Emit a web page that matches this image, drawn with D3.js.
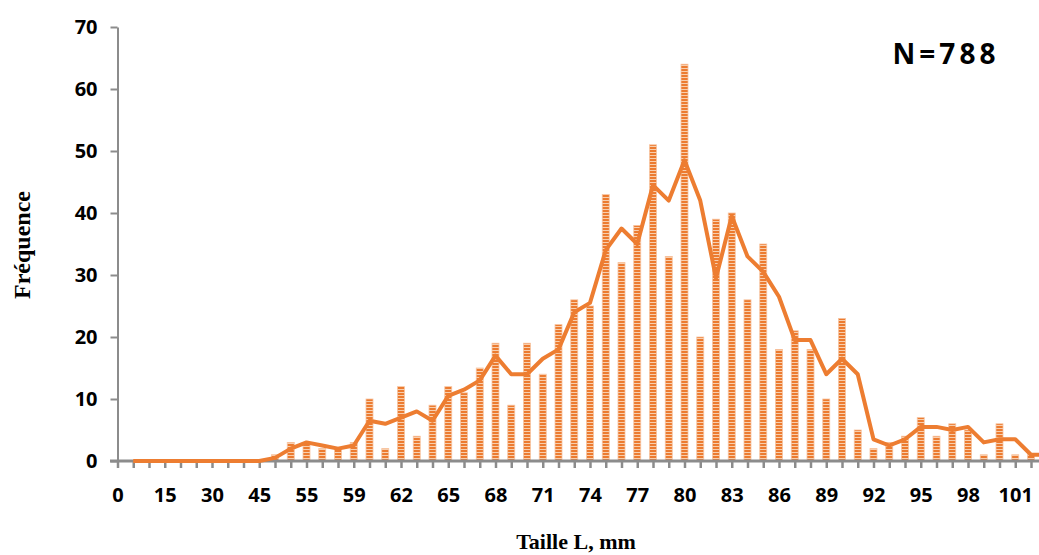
<!DOCTYPE html>
<html>
    <head>
        <meta charset="UTF-8">
        <title>Taille L</title>
        <style>
            body {
                margin: 0;
                background: #fff;
            }
            .axis path, .axis line {
                stroke: #8c8c8c;
            }
            .axis text {
                font-family: "Open Sans", sans-serif;
                font-weight: bold;
                font-size: 20px;
                fill: #000;
            }
        </style>
        <script type="text/javascript" src="https://cdnjs.cloudflare.com/ajax/libs/d3/7.9.0/d3.js"></script>
    </head>
    <body>
    <div id="plot"></div>
    <script>
        // categories (taille L, mm) - only every 3rd one gets a label
        const sizes = [0, 5, 10, 15, 20, 25, 30, 35, 40, 45,
                       50, 53, 55, 57, 58, 59, 60, 61, 62, 63,
                       64, 65, 66, 67, 68, 69, 70, 71, 72, 73,
                       74, 75, 76, 77, 78, 79, 80, 81, 82, 83,
                       84, 85, 86, 87, 88, 89, 90, 91, 92, 93,
                       94, 95, 96, 97, 98, 99, 100, 101, 102, 103];

        // frequencies (bars)
        const freq = [0, 0, 0, 0, 0, 0, 0, 0, 0, 0,
                      1, 3, 3, 2, 2, 3, 10, 2, 12, 4,
                      9, 12, 11, 15, 19, 9, 19, 14, 22, 26,
                      25, 43, 32, 38, 51, 33, 64, 20, 39, 40,
                      26, 35, 18, 21, 18, 10, 23, 5, 2, 3,
                      4, 7, 4, 6, 5, 1, 6, 1, 1, 1];

        // orange line (moving average), first point empty
        const trend = [null, 0, 0, 0, 0, 0, 0, 0, 0, 0,
                       0.5, 2, 3, 2.5, 2, 2.5, 6.5, 6, 7, 8,
                       6.5, 10.5, 11.5, 13, 17, 14, 14, 16.5, 18, 24,
                       25.5, 34, 37.5, 35, 44.5, 42, 48.5, 42, 29.5, 39.5,
                       33, 30.5, 26.5, 19.5, 19.5, 14, 16.5, 14, 3.5, 2.5,
                       3.5, 5.5, 5.5, 5, 5.5, 3, 3.5, 3.5, 1, 1];

        const yTicks = [0, 10, 20, 30, 40, 50, 60, 70];

        const W = 1039, H = 555;
        const x0 = 117.5, step = 15.75;
        const orange = "#ED7D31";

        const svg = d3.select("#plot")
            .append("svg")
                .attr("width", W)
                .attr("height", H)
                .style("display", "block");

        // stripy bar fill
        const defs = svg.append("defs");
        const pat = defs.append("pattern")
            .attr("id", "stripes")
            .attr("patternUnits", "userSpaceOnUse")
            .attr("width", 8)
            .attr("height", 3);
        pat.append("rect").attr("width", 8).attr("height", 3).attr("fill", "#EC7B30");
        pat.append("rect").attr("y", 2).attr("width", 8).attr("height", 1).attr("fill", "#f8cfae");

        const xScale = d3.scalePoint()
            .domain(sizes.map((d, i) => i))
            .range([x0, x0 + step * (sizes.length - 1)]);

        const yScale = d3.scaleLinear()
            .domain([0, 70])
            .range([461, 27]);

        // bars
        const barW = 7;
        svg.append("g")
            .selectAll("rect")
            .data(freq)
            .join("rect")
                .attr("x", (d, i) => xScale(i) - barW / 2)
                .attr("y", d => yScale(d))
                .attr("width", barW)
                .attr("height", d => yScale(0) - yScale(d))
                .attr("fill", "url(#stripes)")
                .attr("stroke", "#f7c4a0")
                .attr("stroke-width", 0.8);

        // x axis
        const xAxis = d3.axisBottom(xScale)
            .tickSize(7)
            .tickPadding(20)
            .tickSizeOuter(0)
            .tickFormat(i => i % 3 === 0 ? sizes[i] : "");
        const gx = svg.append("g")
            .attr("class", "axis")
            .attr("transform", "translate(0,461)")
            .call(xAxis);
        gx.select(".domain").attr("stroke-width", 3).attr("d", "M110,0H" + W);
        gx.selectAll(".tick line").attr("stroke-width", 2.5);

        // y axis
        const yAxis = d3.axisLeft(yScale)
            .tickValues(yTicks)
            .tickSize(7)
            .tickPadding(13)
            .tickSizeOuter(0);
        const gy = svg.append("g")
            .attr("class", "axis")
            .attr("transform", "translate(" + x0 + ",0)")
            .call(yAxis);
        gy.select(".domain").attr("stroke-width", 2);
        gy.selectAll(".tick line").attr("stroke-width", 2);

        // line
        const line = d3.line()
            .defined(d => d != null)
            .x((d, i) => xScale(i))
            .y(d => yScale(d));
        svg.append("path")
            .datum(trend)
            .attr("d", line)
            .attr("fill", "none")
            .attr("stroke", orange)
            .attr("stroke-width", 4)
            .attr("stroke-linejoin", "round");

        // titles
        svg.append("text")
            .attr("x", 576)
            .attr("y", 549)
            .attr("text-anchor", "middle")
            .style("font-family", "'Liberation Serif', 'Times New Roman', serif")
            .style("font-weight", "bold")
            .style("font-size", "22px")
            .text("Taille L, mm");

        svg.append("text")
            .attr("transform", "translate(30,245) rotate(-90)")
            .attr("text-anchor", "middle")
            .style("font-family", "'Liberation Serif', 'Times New Roman', serif")
            .style("font-weight", "bold")
            .style("font-size", "24px")
            .text("Fréquence");

        svg.append("text")
            .attr("x", 946)
            .attr("y", 64)
            .attr("text-anchor", "middle")
            .style("font-family", "'Open Sans', sans-serif")
            .style("font-weight", "bold")
            .style("font-size", "28px")
            .style("letter-spacing", "4px")
            .text("N=788");
    </script>
  </body>
</html>
